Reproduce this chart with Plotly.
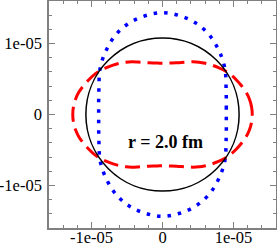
import math
import plotly.graph_objects as go

# Sample angles (degrees) for the two deformed curves
angles_deg = list(range(0, 361, 5))

# Radii (units of 1e-05)
r_blue = [0.900, 0.903, 0.914, 0.931, 0.955, 0.988, 1.031, 1.080, 1.125, 1.170, 1.215, 1.262, 1.305, 1.342, 1.372, 1.396, 1.413, 1.428, 1.435,
          1.428, 1.413, 1.396, 1.372, 1.342, 1.305, 1.262, 1.215, 1.170, 1.125, 1.080, 1.031, 0.988, 0.955, 0.931, 0.914, 0.903, 0.900,
          0.903, 0.914, 0.931, 0.955, 0.988, 1.031, 1.080, 1.125, 1.170, 1.215, 1.262, 1.305, 1.342, 1.372, 1.396, 1.413, 1.428, 1.435,
          1.428, 1.413, 1.396, 1.372, 1.342, 1.305, 1.262, 1.215, 1.170, 1.125, 1.080, 1.031, 0.988, 0.955, 0.931, 0.914, 0.903, 0.900]

r_red = [1.265, 1.260, 1.245, 1.220, 1.185, 1.150, 1.115, 1.075, 1.030, 0.985, 0.942, 0.900, 0.857, 0.815, 0.780, 0.755, 0.738, 0.727, 0.722,
         0.727, 0.738, 0.755, 0.780, 0.815, 0.857, 0.900, 0.942, 0.985, 1.030, 1.075, 1.115, 1.150, 1.185, 1.220, 1.245, 1.260, 1.265,
         1.260, 1.245, 1.220, 1.185, 1.150, 1.115, 1.075, 1.030, 0.985, 0.942, 0.900, 0.857, 0.815, 0.780, 0.755, 0.738, 0.727, 0.722,
         0.727, 0.738, 0.755, 0.780, 0.815, 0.857, 0.900, 0.942, 0.985, 1.030, 1.075, 1.115, 1.150, 1.185, 1.220, 1.245, 1.260, 1.265]

r_circle = 1.08  # radius of the black reference circle (1e-05)
unit = 1e-5

tick_vals = [-1e-5, 0, 1e-5]
tick_text = ["-1e-05", "0", "1e-05"]
label_text = "r = 2.0 fm"


def to_xy(radii):
    xs = [r * unit * math.cos(math.radians(a)) for r, a in zip(radii, angles_deg)]
    ys = [r * unit * math.sin(math.radians(a)) for r, a in zip(radii, angles_deg)]
    return xs, ys


bx, by = to_xy(r_blue)
rx, ry = to_xy(r_red)

fig = go.Figure()
fig.add_trace(go.Scatter(x=bx, y=by, mode="lines",
                         line=dict(color="#0000ff", width=3.5, dash="3.5px,7px", shape="spline"),
                         showlegend=False, hoverinfo="skip"))
fig.add_trace(go.Scatter(x=rx, y=ry, mode="lines",
                         line=dict(color="#ff0000", width=3, dash="15px,7px", shape="spline"),
                         showlegend=False, hoverinfo="skip"))

fig.add_shape(type="circle", xref="x", yref="y",
              x0=-r_circle * unit, y0=-r_circle * unit, x1=r_circle * unit, y1=r_circle * unit,
              line=dict(color="black", width=1.5))

fig.add_annotation(x=0.04e-5, y=-0.39e-5, xref="x", yref="y", text="<b>" + label_text + "</b>",
                   showarrow=False, font=dict(family="Liberation Serif", size=18, color="black"))

axis_common = dict(
    range=[-1.6e-5, 1.6e-5],
    tickmode="array", tickvals=tick_vals, ticktext=tick_text,
    ticks="inside", ticklen=6, tickwidth=1.2, tickcolor="#808080",
    showline=True, linecolor="#808080", linewidth=1.5, mirror="ticks",
    showgrid=False, zeroline=False, automargin=False,
    tickfont=dict(family="Liberation Serif", size=16.5, color="black"),
    minor=dict(tickmode="linear", tick0=0, dtick=2e-6, ticks="inside", ticklen=3,
               tickwidth=1, tickcolor="#808080", showgrid=False),
)

fig.update_xaxes(ticklabelstandoff=-7, **axis_common)
fig.update_yaxes(ticklabelstandoff=2, **axis_common)

fig.update_layout(
    width=277, height=245,
    margin=dict(l=49, r=1, t=1, b=17, autoexpand=False),
    paper_bgcolor="white", plot_bgcolor="white",
    showlegend=False,
)

fig.write_html("out.html", config={"displayModeBar": False},
               post_script="document.body.style.margin='0';document.body.style.overflow='hidden';")
